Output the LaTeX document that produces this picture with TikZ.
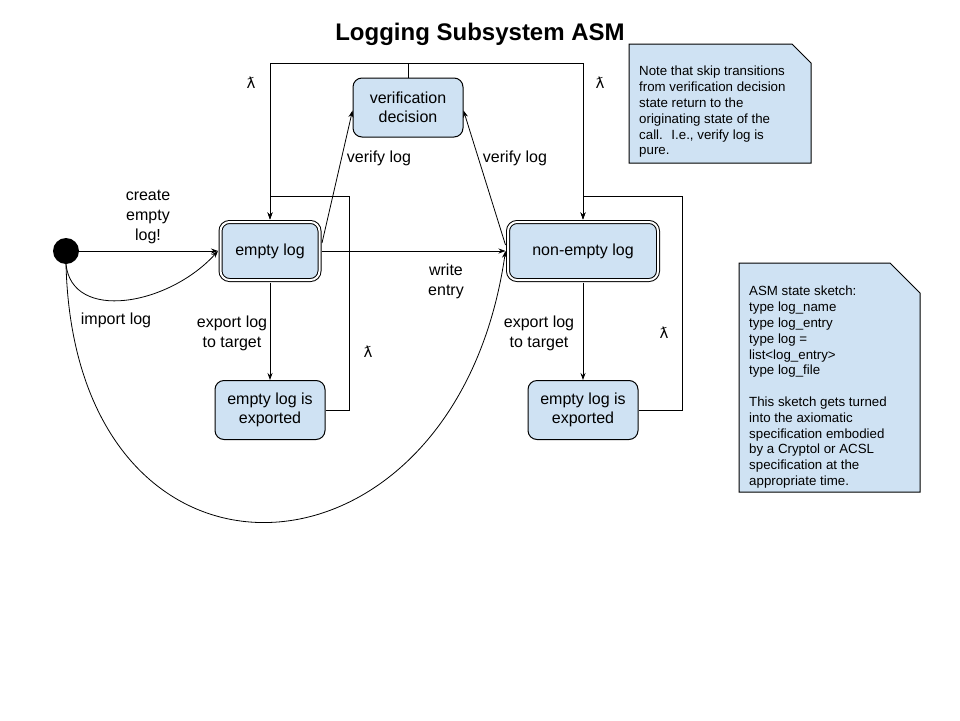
\documentclass[tikz,border=0pt]{standalone}
\usepackage{fontspec}
\setmainfont{Liberation Sans}
\newfontfamily\lamfont{DejaVu Sans}
\usetikzlibrary{positioning,arrows.meta,calc}
\definecolor{stateblue}{HTML}{CFE2F3}
\tikzset{
  state/.style={draw, fill=stateblue, rounded corners=9pt, line width=1pt, align=center, inner sep=0pt, font=\fontsize{16}{19}\selectfont},
  mainstate/.style={state, double=white, double distance=2pt, outer sep=2.5pt},
  trans/.style={-{Stealth[length=7pt,width=5pt]}, line width=0.8pt},
  lbl/.style={align=center, font=\fontsize{16}{20}\selectfont},
  lam/.style={font=\lamfont\fontsize{15}{18}\selectfont},
  note/.style={draw, fill=stateblue, line width=1pt},
  notetext/.style={anchor=north west, align=left, inner sep=0pt, font=\fontsize{13.3}{15.8}\selectfont}
}

\begin{document}
\begin{tikzpicture}[x=1pt, y=-1pt]
        \useasboundingbox (0,0) rectangle (960,720);

        % Title
        \node[font=\fontsize{24}{28}\selectfont\bfseries] (title) at (480,34) {Logging Subsystem ASM};

        % States
        \node[circle, fill=black, minimum size=26pt, inner sep=0pt] (init) at (66,251) {};
        \node[mainstate, minimum width=99pt, minimum height=58pt] (empty) at (270,251) {empty log};
        \node[mainstate, minimum width=150pt, minimum height=58pt] (nonempty) at (583,251) {non-empty log};
        \node[state, minimum width=110pt, minimum height=59pt] (verif) at (408,107.5) {verification\\decision};
        \node[state, minimum width=110pt, minimum height=59pt] (expl) at (270,410) {empty log is\\exported};
        \node[state, minimum width=110pt, minimum height=59pt] (expr) at (583,410) {empty log is\\exported};

        % Transitions
        \draw[trans] (init) -- (empty);
        \draw[trans] (init.south) .. controls (72,322) and (168,306) .. (empty.west);
        \draw[trans] (init.south) .. controls (75,620) and (455,600) .. (nonempty.west);
        \draw[trans] (empty) -- (nonempty);
        \draw[trans] ($(empty.east)+(0,-8)$) -- ($(verif.west)+(0,3)$);
        \draw[trans] ($(nonempty.west)+(0,-6)$) -- ($(verif.east)+(0,3)$);
        \draw[trans] (verif.north) -- ++(0,-14) -| (empty.north);
        \draw[trans] (verif.north) -- ++(0,-14) -| (nonempty.north);
        \draw[trans] (empty) -- (expl);
        \draw[trans] (nonempty) -- (expr);

        \coordinate (backl) at (349,196);
        \coordinate (backr) at (682,196);
        \draw[trans] (expl.east) -| (backl) -| (empty.north);
        \draw[trans] (expr.east) -| (backr) -| (nonempty.north);

        % Labels
        \node[lbl] (lcreate) at (148,217) {create\\empty\\log!};
        \node[lbl] (limport) at (116,320) {import log};
        \node[lbl] (lwrite) at (446,281) {write\\entry};
        \node[lbl] (lverl) at (379,158) {verify log};
        \node[lbl] (lverr) at (515,158) {verify log};
        \node[lbl] (lexpl) at (232,333) {export log\\to target};
        \node[lbl] (lexpr) at (539,333) {export log\\to target};
        \node[lam] (lam1) at (251,83) {ƛ};
        \node[lam] (lam2) at (600,83) {ƛ};
        \node[lam] (lam3) at (368,352) {ƛ};
        \node[lam] (lam4) at (664,333) {ƛ};

        % Notes
        \draw[note] (629,44) -- (792,44) -- (811,63) -- (811,163) -- (629,163) -- cycle;
        \node[notetext] (note1) at (639,66) {Note that skip transitions\\from verification decision\\state return to the\\originating state of the\\call.~ I.e., verify log is\\pure.};

        \draw[note] (739,263) -- (890,263) -- (920,293) -- (920,492) -- (739,492) -- cycle;
        \node[notetext] (note2) at (749,286) {ASM state sketch:\\type log\_name\\type log\_entry\\type log =\\list<log\_entry>\\type log\_file\\[15.8pt]This sketch gets turned\\into the axiomatic\\specification embodied\\by a Cryptol or ACSL\\specification at the\\appropriate time.};
    \end{tikzpicture}
\end{document}
